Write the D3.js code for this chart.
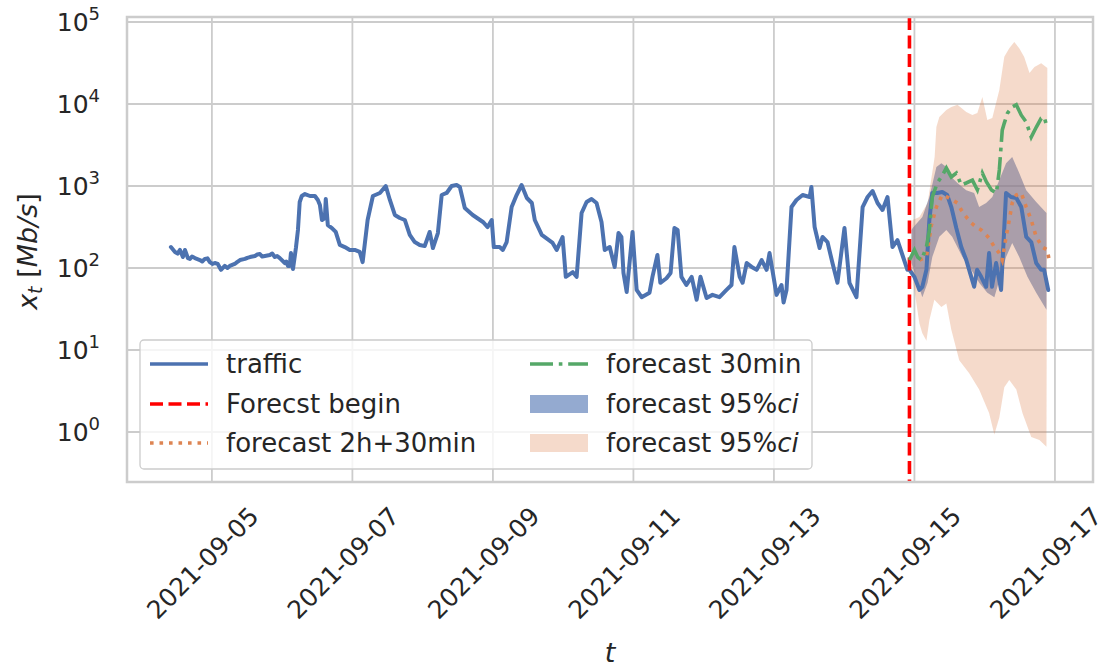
<!DOCTYPE html>
<html>
  <head>
    <meta charset="utf-8">
    <script type="text/javascript" src="https://cdn.jsdelivr.net/npm/d3@7/dist/d3.min.js"></script>
    <style>
      body { margin: 0; background: white; }
      text { font-family: "DejaVu Sans", sans-serif; fill: #262626; }
    </style>
  </head>
  <body>
  <script type='text/javascript'>

    // hours after 2021-09-04 00:00
    var trafficHours = [10.0, 11.4, 12.3, 13.1, 14.1, 14.8, 15.8, 16.5, 17.2, 18.2, 19.9, 20.7, 21.6, 22.5, 23.3,
      24.2, 25.0, 26.0, 27.1, 28.4, 29.3, 30.1, 31.8, 32.6, 33.6, 35.3, 36.1, 37.0, 38.7, 39.5, 40.4, 41.2, 42.1,
      43.8, 44.6, 45.5, 46.3, 47.2, 48.9, 49.4, 50.0, 50.6, 51.0, 51.7, 52.7, 53.4, 54.0,
      54.7, 55.8, 57.5, 59.2, 60.2, 60.9, 61.6, 62.6, 62.9, 63.6, 65.0, 66.3, 67.7, 69.4, 71.1, 72.8, 74.5, 75.5,
      77.2, 79.0, 81.4, 83.4, 84.8, 86.5, 88.2, 89.9, 91.6, 93.3, 95.0, 96.7, 98.4, 99.5, 101.2, 102.5, 104.2,
      105.9, 107.6, 108.7, 110.4, 113.1, 116.6, 118.2, 119.6, 120.3, 122.3, 123.4, 124.7, 126.4, 128.1, 129.8,
      131.6, 133.3, 134.3, 136.7, 140.4, 141.8, 143.8, 144.9, 147.3, 148.6, 150.3, 152.0, 153.7, 155.4, 157.1,
      158.2, 159.9, 161.6, 162.9, 163.9, 164.6, 165.7, 167.7, 169.1, 170.8, 173.5, 174.5, 176.2, 177.2, 179.3,
      180.7, 182.0, 183.1, 184.4, 186.1, 187.9, 189.6, 190.9, 193.0, 195.0, 197.4, 199.8, 201.5, 202.5, 204.3,
      205.3, 206.7, 208.4, 210.1, 211.8, 213.5, 214.5, 216.9, 218.6, 219.3, 220.3, 222.0, 223.7, 225.8, 228.2,
      228.8, 229.9, 231.6, 232.6, 234.3, 236.0, 237.7, 240.1, 241.8, 244.2, 246.3, 248.0, 249.7, 251.4, 253.1,
      254.8, 256.5, 258.2, 259.9, 261.6, 262.3, 264.0, 265.7, 266.7, 268.1, 269.1, 270.1, 271.8, 273.5, 275.2,
      276.6, 278.3, 280.0, 281.7, 283.4, 284.4, 285.4, 286.8, 288.5, 289.5, 290.5, 291.9, 293.6, 295.3, 297.0,
      298.8, 300.5, 302.2, 303.9, 305.6, 307.3, 308.3, 309.7];
    var trafficMbps = [180, 157, 150, 166, 136, 166, 132, 129, 138, 132, 125, 120, 129, 131, 118,
      112, 115, 112, 95, 106, 100, 106, 112, 118, 125, 129, 133, 136, 140, 146, 148, 138, 140,
      144, 150, 136, 140, 132, 115, 120, 106, 106, 152, 97, 175, 291, 638,
      755, 798, 755, 755, 675, 587, 385, 407, 694, 334, 307, 275, 191, 180, 166, 166, 157, 118,
      385, 755, 822, 1000, 675, 443, 407, 385, 253, 207, 191, 185, 275, 175, 267, 776, 822,
      1000, 1028, 972, 539, 443, 364, 316, 385, 180, 180, 166, 207, 554, 776, 1028,
      714, 620, 385, 253, 202, 166, 239, 78, 89, 78, 469, 638, 694, 620, 364,
      166, 180, 103, 267, 239, 87, 51, 275, 54, 44, 50, 78, 144, 66, 75,
      87, 307, 291, 78, 62, 78, 41, 78, 43, 47, 44, 54, 62, 180, 78,
      66, 115, 103, 95, 125, 95, 152, 47, 62, 38, 54, 554, 675, 776, 734,
      972, 316, 175, 239, 207, 115, 66, 307, 66, 44, 554, 734, 869, 620, 510,
      734, 180, 219, 144, 95, 95, 78, 54, 59, 95, 385, 822, 822, 845, 776,
      554, 307, 180, 125, 78, 59, 95, 78, 59, 152, 59, 115, 54, 822, 734,
      714, 554, 239, 207, 115, 95, 95, 54];

    var forecastBeginHour = 262.3;

    var fc150Hours = [265.7, 268.1, 269.8, 271.5, 273.5, 275.2, 276.9, 278.7, 280.0, 281.7, 283.4, 285.1, 286.8,
      288.5, 289.5, 291.3, 293.0, 294.0, 295.3, 296.4, 297.4, 298.8, 300.5, 302.2, 303.9, 305.6, 307.7, 309.4, 310.0];
    var fc150Mbps = [125, 136, 334, 554, 776, 734, 675, 620, 510, 419, 354, 316, 291,
      253, 232, 180, 152, 125, 239, 385, 620, 776, 822, 554, 385, 239, 180, 166, 125];

    var fc30Hours = [262.3, 264.0, 265.1, 266.4, 268.1, 269.1, 270.1, 271.8, 273.2, 274.9, 276.6, 278.3, 280.0,
      281.7, 283.8, 285.5, 287.2, 288.6, 290.3, 292.0, 293.0, 294.0, 294.7, 295.8, 297.4, 298.8, 300.5, 302.2,
      303.9, 305.6, 307.3, 308.3, 309.4];
    var fc30Mbps = [125, 166, 136, 125, 180, 291, 734, 1088, 1290, 1655, 1290, 1440, 1028,
      1088, 1180, 894, 1440, 1120, 894, 822, 1570, 4800, 5850, 7750, 9200, 9800, 7300, 6000,
      3950, 5200, 6700, 6950, 5100];

    // 95% ci of the 30min forecast (blue)
    var ciBlueUpHours = [263.0, 263.4, 266.7, 269.1, 271.5, 273.2, 274.9, 276.6, 278.7, 281.7, 284.4, 286.1,
      288.5, 290.6, 293.0, 295.3, 297.4, 299.8, 302.2, 305.6, 309.1];
    var ciBlueUp = [291, 307, 419, 734, 1700, 1900, 1700, 1290, 1090, 890, 820, 555,
      620, 735, 1180, 1900, 2260, 1440, 890, 640, 470];
    var ciBlueLowHours = [263.0, 265.1, 266.7, 268.5, 270.1, 272.5, 274.9, 276.9, 280.4, 283.4, 286.1, 288.9,
      291.3, 293.0, 295.3, 297.4, 299.8, 302.6, 305.6, 309.1];
    var ciBlueLow = [115, 66, 44, 66, 136, 240, 290, 240, 136, 95, 66, 50,
      44, 71, 136, 202, 136, 78, 50, 31];

    // 95% ci of the 2h+30min forecast (orange)
    var ciOrangeUpHours = [263.0, 263.4, 265.7, 268.5, 270.9, 271.5, 272.5, 274.9, 276.6, 278.7, 281.7, 283.8,
      285.5, 287.2, 288.9, 290.6, 293.0, 294.7, 296.4, 298.1, 299.8, 301.5, 303.3, 305.0, 307.3, 309.4];
    var ciOrangeUp = [291, 385, 419, 620, 2260, 5250, 6950, 8450, 9200, 9800, 8000, 7350,
      7750, 12200, 6400, 6750, 14800, 37600, 48000, 57000, 48000, 37400, 23800, 28300, 31500, 27500];
    var ciOrangeLowHours = [263.0, 264.0, 265.7, 266.7, 268.1, 269.1, 270.8, 273.2, 274.9, 276.6, 279.3, 282.7,
      286.1, 289.5, 291.3, 293.0, 294.7, 296.4, 298.8, 300.9, 303.9, 306.7, 309.1];
    var ciOrangeLow = [95, 54, 21, 16, 13, 23, 41, 33.5, 37, 17.6, 7.5, 5.2,
      3.3, 1.7, 0.93, 1.5, 3.5, 4.3, 3.3, 1.7, 0.87, 0.8, 0.66];

    var xTickLabels = ["2021-09-05", "2021-09-07", "2021-09-09", "2021-09-11", "2021-09-13", "2021-09-15", "2021-09-17"];
    var yTickExps = [0, 1, 2, 3, 4, 5];

    var BASE = new Date(2021, 8, 4, 0, 0);
    function hourToDate(h){
      return new Date(BASE.getTime() + h * 3600 * 1000);
    }

    var W = 1115, H = 668;
    var PLOT_L = 127, PLOT_R = 1093, PLOT_T = 17, PLOT_B = 482;

    var svg = d3.select("body").append("svg")
        .attr("width", W)
        .attr("height", H);

    svg.append("rect").attr("width", W).attr("height", H).attr("fill", "white");

    var x = d3.scaleTime()
        .domain([hourToDate(-5), hourToDate(325)])
        .range([PLOT_L, PLOT_R]);

    var y = d3.scaleLog()
        .domain([Math.pow(10, -0.61), Math.pow(10, 5.061)])
        .range([PLOT_B, PLOT_T]);

    var parseDay = d3.timeParse("%Y-%m-%d");
    var xTicks = xTickLabels.map(parseDay);
    var yTicks = yTickExps.map(function(e){ return Math.pow(10, e); });

    // grid
    var grid = svg.append("g");
    grid.selectAll(".gx").data(xTicks).enter().append("line")
        .attr("x1", function(d){ return x(d); })
        .attr("x2", function(d){ return x(d); })
        .attr("y1", PLOT_T).attr("y2", PLOT_B)
        .attr("stroke", "#cccccc").attr("stroke-width", 1.8);
    grid.selectAll(".gy").data(yTicks).enter().append("line")
        .attr("x1", PLOT_L).attr("x2", PLOT_R)
        .attr("y1", function(d){ return y(d); })
        .attr("y2", function(d){ return y(d); })
        .attr("stroke", "#cccccc").attr("stroke-width", 1.8);

    function pts(hours, vals){
      return hours.map(function(h, i){ return [hourToDate(h), vals[i]]; });
    }

    var line = d3.line()
        .x(function(d){ return x(d[0]); })
        .y(function(d){ return y(d[1]); });

    function band(upH, up, lowH, low){
      var a = pts(upH, up);
      var b = pts(lowH, low).reverse();
      return line(a.concat(b)) + "Z";
    }

    // fills
    svg.append("path")
        .attr("d", band(ciBlueUpHours, ciBlueUp, ciBlueLowHours, ciBlueLow))
        .attr("fill", "#4c72b0").attr("fill-opacity", 0.6);
    svg.append("path")
        .attr("d", band(ciOrangeUpHours, ciOrangeUp, ciOrangeLowHours, ciOrangeLow))
        .attr("fill", "#dd8452").attr("fill-opacity", 0.3);

    // lines
    svg.append("path")
        .attr("d", line(pts(trafficHours, trafficMbps)))
        .attr("fill", "none").attr("stroke", "#4c72b0")
        .attr("stroke-width", 4).attr("stroke-linejoin", "round").attr("stroke-linecap", "round");

    var fbx = x(hourToDate(forecastBeginHour));
    svg.append("line")
        .attr("x1", fbx).attr("x2", fbx)
        .attr("y1", PLOT_T).attr("y2", PLOT_B)
        .attr("stroke", "#ff0000").attr("stroke-width", 3.6)
        .attr("stroke-dasharray", "13,5.5");

    svg.append("path")
        .attr("d", line(pts(fc150Hours, fc150Mbps)))
        .attr("fill", "none").attr("stroke", "#dd8452")
        .attr("stroke-width", 3.6).attr("stroke-dasharray", "3.6,5.9");

    svg.append("path")
        .attr("d", line(pts(fc30Hours, fc30Mbps)))
        .attr("fill", "none").attr("stroke", "#55a868")
        .attr("stroke-width", 3.6).attr("stroke-dasharray", "23,5.8,3.6,5.8");

    // spines
    svg.append("rect")
        .attr("x", PLOT_L).attr("y", PLOT_T)
        .attr("width", PLOT_R - PLOT_L).attr("height", PLOT_B - PLOT_T)
        .attr("fill", "none").attr("stroke", "#cccccc").attr("stroke-width", 2.5);

    // x tick labels
    var fmt = d3.timeFormat("%Y-%m-%d");
    svg.append("g").selectAll("text").data(xTicks).enter().append("text")
        .attr("transform", function(d){ return "translate(" + (x(d) - 9) + ",563) rotate(-45)"; })
        .attr("text-anchor", "middle")
        .attr("dominant-baseline", "central")
        .style("font-size", "25px")
        .text(function(d){ return fmt(d); });

    // y tick labels
    var yl = svg.append("g").selectAll("text").data(yTickExps).enter().append("text")
        .attr("x", 100)
        .attr("y", function(d){ return y(Math.pow(10, d)) + 9; })
        .attr("text-anchor", "end")
        .style("font-size", "25px");
    yl.append("tspan").text("10");
    yl.append("tspan").attr("dy", -11).style("font-size", "18px").text(function(d){ return d; });

    // axis labels
    svg.append("text")
        .attr("x", (PLOT_L + PLOT_R) / 2).attr("y", 662)
        .attr("text-anchor", "middle")
        .style("font-size", "27px").style("font-style", "italic")
        .text("t");

    var ylab = svg.append("text")
        .attr("transform", "translate(37," + ((PLOT_T + PLOT_B) / 2 + 2) + ") rotate(-90)")
        .attr("text-anchor", "middle")
        .style("font-size", "27px");
    ylab.append("tspan").style("font-style", "italic").text("x");
    ylab.append("tspan").style("font-style", "italic").style("font-size", "19px").attr("dy", 5).text("t");
    ylab.append("tspan").attr("dy", -5).text(" [");
    ylab.append("tspan").style("font-style", "italic").text("Mb/s");
    ylab.append("tspan").text("]");

    // legend
    var lg = svg.append("g");
    lg.append("rect")
        .attr("x", 140).attr("y", 340).attr("width", 672).attr("height", 129)
        .attr("rx", 4)
        .attr("fill", "white").attr("fill-opacity", 0.8)
        .attr("stroke", "#cccccc").attr("stroke-width", 1.3);

    var legendItems = [
      {col: 0, row: 0, kind: "line", color: "#4c72b0", dash: null, label: ["traffic"]},
      {col: 0, row: 1, kind: "line", color: "#ff0000", dash: "13,5.5", label: ["Forecst begin"]},
      {col: 0, row: 2, kind: "line", color: "#dd8452", dash: "3.6,5.9", label: ["forecast 2h+30min"]},
      {col: 1, row: 0, kind: "line", color: "#55a868", dash: "23,5.8,3.6,5.8", label: ["forecast 30min"]},
      {col: 1, row: 1, kind: "patch", color: "#4c72b0", opacity: 0.6, label: ["forecast 95%", "ci"]},
      {col: 1, row: 2, kind: "patch", color: "#dd8452", opacity: 0.3, label: ["forecast 95%", "ci"]}
    ];
    var colX = [150, 530];
    var rowY = [364, 404, 443];

    legendItems.forEach(function(it){
      var hx = colX[it.col], hy = rowY[it.row];
      if(it.kind == "line"){
        var l = lg.append("line")
            .attr("x1", hx).attr("x2", hx + 58)
            .attr("y1", hy).attr("y2", hy)
            .attr("stroke", it.color).attr("stroke-width", 3.6);
        if(it.dash) l.attr("stroke-dasharray", it.dash);
      } else {
        lg.append("rect")
            .attr("x", hx).attr("y", hy - 9)
            .attr("width", 58).attr("height", 18)
            .attr("fill", it.color).attr("fill-opacity", it.opacity);
      }
      var t = lg.append("text")
          .attr("x", hx + 76).attr("y", hy + 9)
          .style("font-size", "26px");
      t.append("tspan").text(it.label[0]);
      if(it.label.length > 1){
        t.append("tspan").style("font-style", "italic").text(it.label[1]);
      }
    });

  </script>
  </body>
</html>
